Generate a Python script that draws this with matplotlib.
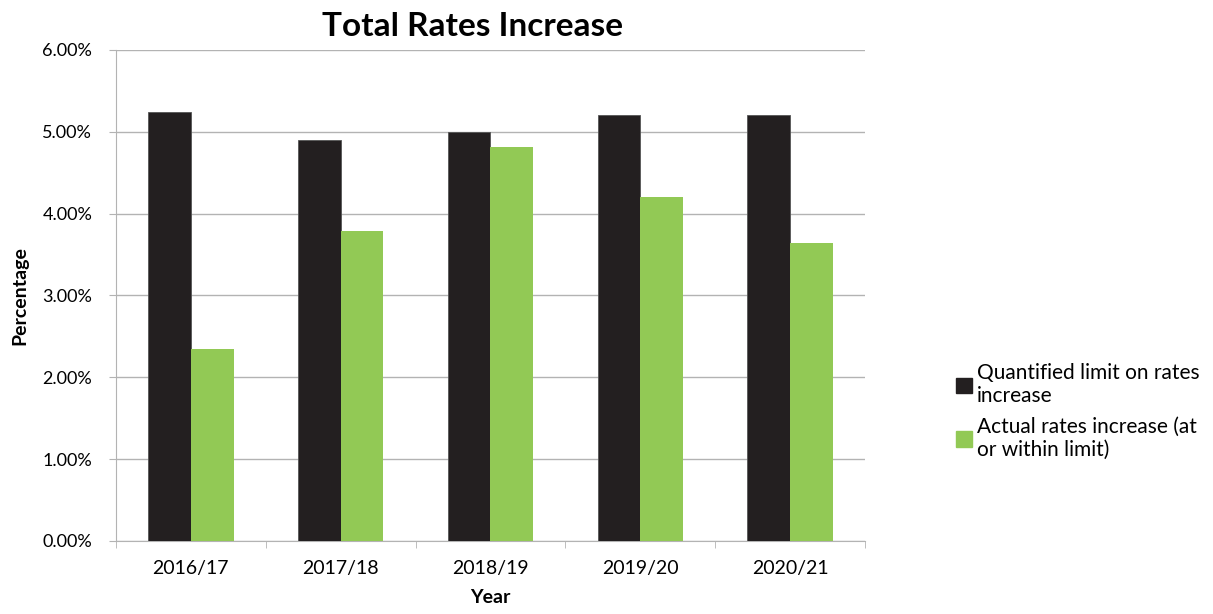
import numpy as np
import matplotlib
matplotlib.use("Agg")
from matplotlib import pyplot as plt
from matplotlib.patches import Patch

plt.rcParams["font.family"] = ["Lato", "DejaVu Sans"]

years = ["2016/17", "2017/18", "2018/19", "2019/20", "2020/21"]
limit = [5.24, 4.90, 5.00, 5.20, 5.20]
actual = [2.35, 3.79, 4.81, 4.20, 3.64]

black = "#231F20"
green = "#92C955"
grey = "#B3B3B3"

fig = plt.figure(figsize=(12.13, 6.14), dpi=100)
ax = fig.add_axes([0.0956, 0.1189, 0.6175, 0.7997])

x = np.arange(len(years))
w = 0.285
ax.bar(x - w / 2, limit, w, color=black, edgecolor="#555555", linewidth=0.6, zorder=3)
ax.bar(x + w / 2, actual, w, color=green, zorder=3)

ax.set_xlim(-0.5, len(years) - 0.5)
ax.set_ylim(0, 6)
ax.set_yticks(np.arange(0, 7, 1))
ax.set_yticklabels([f"{v:.2f}%" for v in range(7)], fontsize=13)
ax.set_xticks(x)
ax.set_xticklabels(years, fontsize=14)
ax.set_xticks(np.arange(-0.5, len(years)), minor=True)
ax.tick_params(axis="x", which="major", length=0, pad=14)
ax.tick_params(axis="x", which="minor", length=5, color=grey)
ax.tick_params(axis="y", length=5, color=grey, pad=12)
ax.grid(axis="y", color=grey, linewidth=1, zorder=0)

for s in ["top", "right"]:
    ax.spines[s].set_visible(False)
for s in ["left", "bottom"]:
    ax.spines[s].set_color(grey)

ax.set_title("Total Rates Increase", fontsize=24, fontweight="bold", pad=10, x=0.476)
ax.set_xlabel("Year", fontsize=14, fontweight="bold", labelpad=8)
ax.set_ylabel("Percentage", fontsize=14, fontweight="bold", labelpad=10)

handles = [Patch(color=black), Patch(color=green)]
labels = ["Quantified limit on rates\nincrease", "Actual rates increase (at\nor within limit)"]
fig.legend(handles, labels, loc="center left", bbox_to_anchor=(0.773, 0.33),
           frameon=False, fontsize=15, handlelength=0.75, handleheight=0.75,
           handletextpad=0.25, labelspacing=0.5)

fig.savefig("out.png", dpi=100)
